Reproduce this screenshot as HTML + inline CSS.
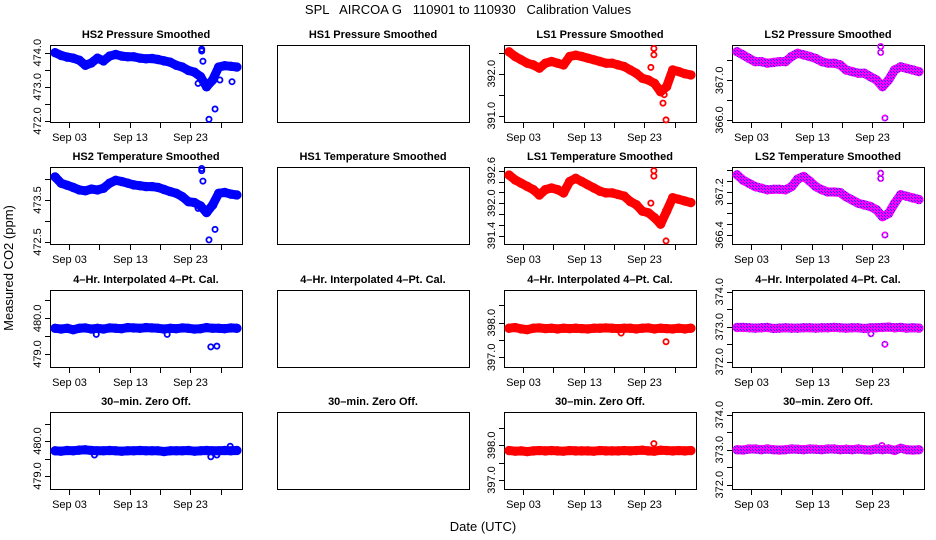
<!DOCTYPE html>
<html><head><meta charset="utf-8"><style>
html,body{margin:0;padding:0;background:#fff;}
svg{display:block;font-family:"Liberation Sans",sans-serif;}
</style></head><body>
<svg id="c" width="936" height="540" viewBox="0 0 936 540" xmlns="http://www.w3.org/2000/svg">
<defs>
<pattern id="chk" width="3" height="3" patternUnits="userSpaceOnUse">
<rect width="3" height="3" fill="#ff00ff"/><rect width="1" height="1" fill="#2020ff"/><rect x="2" y="2" width="1" height="1" fill="#2020ff"/>
</pattern>
</defs>
<text x="468" y="14" font-size="13" text-anchor="middle" style="white-space:pre">SPL   AIRCOA G   110901 to 110930   Calibration Values</text>
<text x="483" y="531" font-size="13" text-anchor="middle">Date (UTC)</text>
<text transform="translate(13,268) rotate(-90)" font-size="13" text-anchor="middle">Measured CO2 (ppm)</text>
</svg>
<script>
const days = [0.7,1.7,2.7,3.7,4.7,5.7,6.7,7.7,8.7,9.7,10.7,11.7,12.7,13.7,14.7,15.7,16.7,17.7,18.7,19.7,20.7,21.7,22.7,23.7,24.7,25.7,26.7,27.7,28.7,29.7,30.7];
const xTickDays = [3,8,13,18,23,28];
const xTickLabels = ["Sep 03","","Sep 13","","Sep 23",""];
const hs2Pressure = [474.0,473.92,473.87,473.84,473.78,473.63,473.7,473.84,473.76,473.9,473.95,473.9,473.88,473.88,473.84,473.82,473.83,473.8,473.76,473.72,473.63,473.58,473.48,473.43,473.3,473.0,473.2,473.58,473.62,473.6,473.58];
const hs2PressureOut = [[24.9,474.1],[24.9,474.05],[25.1,473.75],[26.1,472.05],[27.1,472.35],[29.9,473.15],[24.3,473.1],[27.9,473.2]];
const hs2Temp = [474.05,473.9,473.85,473.8,473.74,473.72,473.76,473.74,473.78,473.9,473.97,473.94,473.9,473.86,473.84,473.82,473.82,473.8,473.75,473.7,473.66,473.58,473.46,473.44,473.36,473.2,473.38,473.66,473.68,473.64,473.62];
const hs2TempOut = [[24.9,474.25],[24.9,474.2],[25.1,473.95],[26.1,472.55],[27.1,472.8],[24.3,473.3]];
const ls1Pressure = [392.52,392.41,392.33,392.25,392.21,392.13,392.25,392.29,392.25,392.21,392.41,392.44,392.41,392.37,392.33,392.29,392.25,392.25,392.21,392.17,392.09,392.01,391.89,391.85,391.77,391.57,391.69,392.09,392.05,392.0,391.97];
const ls1PressureOut = [[24.6,392.6],[24.6,392.45],[26.6,390.9],[26.1,391.3],[24.1,392.15],[26.3,391.5]];
const ls2Pressure = [367.72,367.64,367.55,367.47,367.47,367.43,367.45,367.47,367.47,367.6,367.68,367.64,367.6,367.55,367.47,367.43,367.43,367.39,367.26,367.22,367.18,367.18,367.09,367.01,366.84,367.01,367.26,367.34,367.3,367.26,367.22];
const ls2PressureOut = [[24.4,367.85],[24.4,367.7],[25.1,366.05]];
const ls1Temp = [392.52,392.43,392.37,392.31,392.25,392.15,392.25,392.28,392.25,392.19,392.4,392.46,392.4,392.34,392.28,392.22,392.19,392.19,392.16,392.13,392.03,391.97,391.85,391.82,391.73,391.61,391.85,392.1,392.07,392.04,392.01];
const ls1TempOut = [[24.6,392.6],[24.6,392.5],[26.6,391.3],[24.1,392.0]];
const ls2Temp = [367.52,367.42,367.36,367.3,367.27,367.24,367.25,367.25,367.24,367.3,367.44,367.49,367.4,367.3,367.24,367.2,367.2,367.19,367.11,367.05,366.99,366.96,366.93,366.87,366.74,366.8,366.99,367.15,367.12,367.09,367.06];
const ls2TempOut = [[24.4,367.55],[24.4,367.45],[25.1,366.4]];
const hs2Interp = [479.72,479.7,479.72,479.68,479.72,479.73,479.7,479.72,479.7,479.73,479.72,479.71,479.74,479.73,479.72,479.74,479.73,479.72,479.7,479.72,479.71,479.73,479.72,479.7,479.71,479.74,479.72,479.72,479.71,479.73,479.72];
const hs2InterpOut = [[26.4,479.2],[27.4,479.22],[7.5,479.55],[19.2,479.55]];
const ls1Interp = [397.84,397.86,397.82,397.8,397.84,397.85,397.83,397.84,397.82,397.84,397.83,397.84,397.83,397.82,397.84,397.84,397.85,397.84,397.83,397.84,397.84,397.82,397.84,397.85,397.82,397.84,397.83,397.82,397.84,397.82,397.84];
const ls1InterpOut = [[26.6,397.45],[19.2,397.7]];
const ls2Interp = [372.98,372.98,372.97,372.96,372.97,372.98,372.95,372.96,372.97,372.96,372.96,372.97,372.97,372.96,372.97,372.97,372.98,372.97,372.96,372.97,372.97,372.95,372.97,372.97,372.98,372.99,372.97,372.98,372.96,372.97,372.96];
const ls2InterpOut = [[25.1,372.5],[22.8,372.8]];
const hs2Zero = [479.72,479.71,479.73,479.72,479.74,479.75,479.73,479.72,479.72,479.73,479.72,479.71,479.72,479.72,479.73,479.72,479.72,479.72,479.7,479.72,479.72,479.72,479.73,479.71,479.72,479.73,479.72,479.72,479.73,479.72,479.73];
const hs2ZeroOut = [[26.4,479.55],[27.4,479.6],[29.6,479.85],[7.2,479.6]];
const ls1Zero = [397.85,397.83,397.84,397.82,397.84,397.85,397.84,397.85,397.84,397.83,397.85,397.84,397.84,397.84,397.83,397.85,397.84,397.84,397.84,397.85,397.84,397.85,397.86,397.84,397.83,397.86,397.85,397.84,397.85,397.84,397.85];
const ls1ZeroOut = [[24.6,398.05]];
const ls2Zero = [373.0,372.99,373.02,373.02,373.0,373.02,373.0,372.99,373.0,373.02,373.01,373.0,373.02,373.01,373.0,373.02,373.02,373.0,373.01,373.0,373.02,373.0,372.99,373.02,373.0,373.02,372.98,373.04,373.0,372.99,373.0];
const ls2ZeroOut = [[24.6,373.12]];

const svg = document.getElementById('c');
const NS = 'http://www.w3.org/2000/svg';
function mk(tag, attrs, parent){const e=document.createElementNS(NS,tag);for(const k in attrs)e.setAttribute(k,attrs[k]);(parent||svg).appendChild(e);return e;}

const colX=[50,277,504,732], rowY=[45,167,290,412], W=192, H=77;
const panels = [
 {c:0,r:0,t:"HS2 Pressure Smoothed",y0:471.97,y1:474.225,ticks:[472,472.5,473,473.5,474],labs:[472,473,474],d:hs2Pressure,o:hs2PressureOut,col:"#0000ff",n:"hs2-pressure"},
 {c:1,r:0,t:"HS1 Pressure Smoothed",n:"hs1-pressure"},
 {c:2,r:0,t:"LS1 Pressure Smoothed",y0:390.85,y1:392.683,ticks:[391,391.5,392,392.5],labs:[391,392],d:ls1Pressure,o:ls1PressureOut,col:"#ff0000",n:"ls1-pressure"},
 {c:3,r:0,t:"LS2 Pressure Smoothed",y0:365.95,y1:367.889,ticks:[366,366.5,367,367.5],labs:[366,367],d:ls2Pressure,o:ls2PressureOut,col:"url(#chk)",n:"ls2-pressure"},
 {c:0,r:1,t:"HS2 Temperature Smoothed",y0:472.452,y1:474.286,ticks:[472.5,473,473.5,474],labs:[472.5,473.5],d:hs2Temp,o:hs2TempOut,col:"#0000ff",n:"hs2-temperature"},
 {c:1,r:1,t:"HS1 Temperature Smoothed",n:"hs1-temperature"},
 {c:2,r:1,t:"LS1 Temperature Smoothed",y0:391.243,y1:392.669,ticks:[391.4,391.6,391.8,392,392.2,392.4,392.6],labs:[391.4,392.0,392.6],d:ls1Temp,o:ls1TempOut,col:"#ff0000",n:"ls1-temperature"},
 {c:3,r:1,t:"LS2 Temperature Smoothed",y0:366.232,y1:367.665,ticks:[366.4,366.6,366.8,367,367.2,367.4,367.6],labs:[366.4,367.2],d:ls2Temp,o:ls2TempOut,col:"url(#chk)",n:"ls2-temperature"},
 {c:0,r:2,t:"4\u2013Hr. Interpolated 4\u2013Pt. Cal.",y0:478.636,y1:480.793,ticks:[479,479.5,480,480.5],labs:[479,480],d:hs2Interp,o:hs2InterpOut,col:"#0000ff",n:"hs2-interpolated"},
 {c:1,r:2,t:"4\u2013Hr. Interpolated 4\u2013Pt. Cal.",n:"hs1-interpolated"},
 {c:2,r:2,t:"4\u2013Hr. Interpolated 4\u2013Pt. Cal.",y0:396.72,y1:398.945,ticks:[397,397.5,398,398.5],labs:[397,398],d:ls1Interp,o:ls1InterpOut,col:"#ff0000",n:"ls1-interpolated"},
 {c:3,r:2,t:"4\u2013Hr. Interpolated 4\u2013Pt. Cal.",y0:371.849,y1:374.049,ticks:[372,372.5,373,373.5,374],labs:[372,373,374],d:ls2Interp,o:ls2InterpOut,col:"url(#chk)",n:"ls2-interpolated"},
 {c:0,r:3,t:"30\u2013min. Zero Off.",y0:478.629,y1:480.829,ticks:[479,479.5,480,480.5],labs:[479,480],d:hs2Zero,o:hs2ZeroOut,col:"#0000ff",n:"hs2-zero-offset"},
 {c:1,r:3,t:"30\u2013min. Zero Off.",n:"hs1-zero-offset"},
 {c:2,r:3,t:"30\u2013min. Zero Off.",y0:396.741,y1:398.96,ticks:[397,397.5,398,398.5],labs:[397,398],d:ls1Zero,o:ls1ZeroOut,col:"#ff0000",n:"ls1-zero-offset"},
 {c:3,r:3,t:"30\u2013min. Zero Off.",y0:371.877,y1:374.077,ticks:[372,372.5,373,373.5,374],labs:[372,373,374],d:ls2Zero,o:ls2ZeroOut,col:"url(#chk)",n:"ls2-zero-offset"}
];

panels.forEach(p=>{
  const X0=colX[p.c], Y0=rowY[p.r];
  const g=mk('g',{});
  
  
  const tt=mk('text',{x:X0+W/2,y:Y0-7,'font-size':'11','font-weight':'bold','text-anchor':'middle'},g);
  tt.textContent=p.t;
  
  
  const box=mk('rect',{x:X0+0.5,y:Y0+0.5,width:W,height:H,fill:'none',stroke:'#000','stroke-width':1},g);
  
  
  if(!p.d) return;
  const sx=d=>X0+19+(d-3)*6.06;
  const sy=v=>Y0+(p.y1-v)/(p.y1-p.y0)*H;
  xTickDays.forEach((d,i)=>{
    const x=Math.round(sx(d))+0.5;
    const tk=mk('line',{x1:x,x2:x,y1:Y0+H,y2:Y0+H+6,stroke:'#000'},g);
    
    
    if(xTickLabels[i]){
      const tl=mk('text',{x:x,y:Y0+H+19,'font-size':'11','text-anchor':'middle'},g);
      tl.textContent=xTickLabels[i];
      
      
    }
  });
  p.ticks.forEach(v=>{
    const y=Math.round(sy(v))+0.5;
    const tk=mk('line',{x1:X0-5,x2:X0,y1:y,y2:y,stroke:'#000'},g);
    
    
  });
  p.labs.forEach(v=>{
    const y=sy(v);
    const tl=mk('text',{transform:`translate(${X0-9},${y}) rotate(-90)`,'font-size':'11','text-anchor':'middle'},g);
    tl.textContent=v.toFixed(1);
    
    
  });
  const pts=days.map((d,i)=>sx(d).toFixed(1)+','+sy(p.d[i]).toFixed(1)).join(' ');
  const band=mk('polyline',{points:pts,fill:'none',stroke:p.col,'stroke-width':9,'stroke-linejoin':'round','stroke-linecap':'round'},g);
  
  
  days.forEach((d,i)=>{
    const c=mk('circle',{cx:sx(d),cy:sy(p.d[i]),r:3.8,fill:'none',stroke:p.col,'stroke-width':1.8},g);
    
    
  });
  p.o.forEach(o=>{
    const c=mk('circle',{cx:sx(o[0]),cy:sy(o[1]),r:2.6,fill:'none',stroke:p.col,'stroke-width':1.8},g);
    
    
  });
});
</script>
</body></html>
